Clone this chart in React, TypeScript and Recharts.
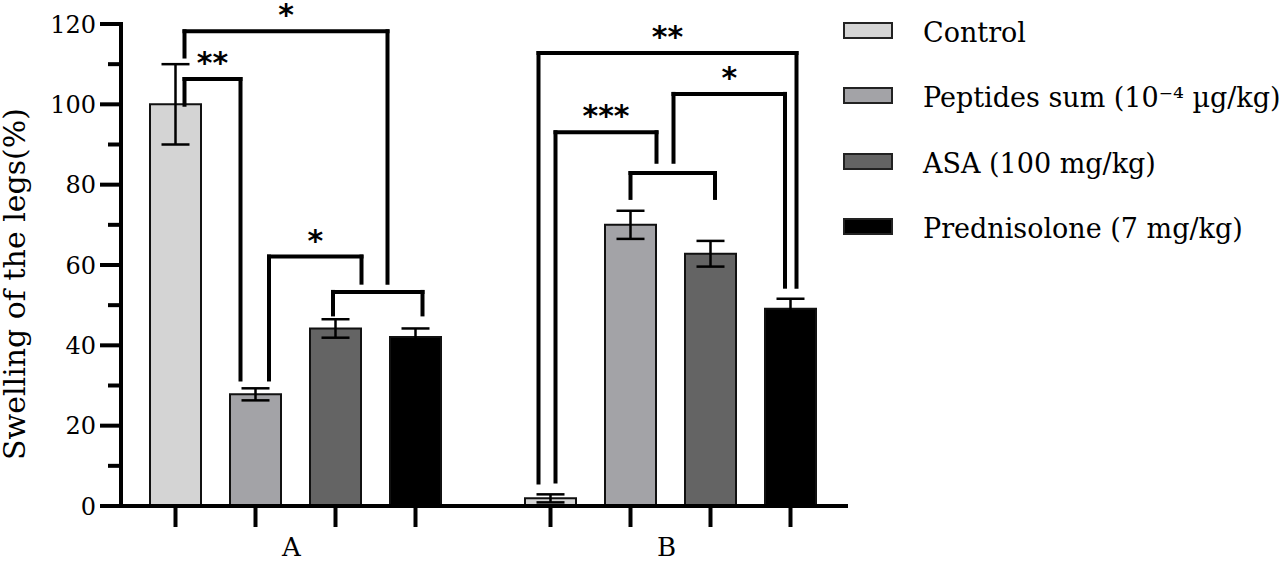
import React from 'react';
import { BarChart, Bar, XAxis, YAxis, ErrorBar, ReferenceLine, Legend } from 'recharts';

// ---------- data ----------
const groups = ['A', 'B'];
const seriesKeys = ['control', 'peptides', 'asa', 'pred'];
const seriesNames = ['Control', 'Peptides sum (10⁻⁴ µg/kg)', 'ASA (100 mg/kg)', 'Prednisolone (7 mg/kg)'];
const seriesColors = ['#d4d4d4', '#a3a3a7', '#646464', '#000000'];

const controlValues = [100, 1.9];
const controlErrors = [10, 1.0];
const peptidesValues = [27.8, 70.0];
const peptidesErrors = [1.5, 3.5];
const asaValues = [44.2, 62.8];
const asaErrors = [2.3, 3.2];
const predValues = [42.1, 49.1];
const predErrors = [2.1, 2.5];

const yTicks = [0, 10, 20, 30, 40, 50, 60, 70, 80, 90, 100, 110, 120];
const yMajorStep = 20;

// significance brackets: group, bars (index + small offset), heights in data units
const brackets = [
  { group: 0, fromBar: 0, fromDx: 9, toBar: 1, toDx: -15, top: 106.3, leftEnd: 99.9, rightEnd: 31.5, label: '**' },
  { group: 0, fromBar: 0, fromDx: 9, toBar: 3, toDx: -28, top: 118.2, leftEnd: 111.9, rightEnd: 55.6, label: '*' },
  { group: 0, fromBar: 1, fromDx: 13.5, toBar: 2, toDx: 26, top: 62.1, leftEnd: 31.5, rightEnd: 55.6, label: '*' },
  { group: 0, fromBar: 2, fromDx: -2.5, toBar: 3, toDx: 7, top: 53.3, leftEnd: 47.7, rightEnd: 47.7, label: '' },
  { group: 1, fromBar: 0, fromDx: -12, toBar: 3, toDx: 6, top: 112.8, leftEnd: 5.85, rightEnd: 54.6, label: '**' },
  { group: 1, fromBar: 1, fromDx: 43, toBar: 3, toDx: -5.5, top: 102.6, leftEnd: 85.7, rightEnd: 54.6, label: '*' },
  { group: 1, fromBar: 0, fromDx: 5, toBar: 1, toDx: 26, top: 93.05, leftEnd: 6.1, rightEnd: 85.7, label: '***' },
  { group: 1, fromBar: 1, fromDx: 0, toBar: 2, toDx: 4.5, top: 82.9, leftEnd: 76.7, rightEnd: 76.7, label: '' },
];

const data = groups.map((g, i) => ({
  group: g,
  control: controlValues[i],
  controlErr: controlErrors[i],
  peptides: peptidesValues[i],
  peptidesErr: peptidesErrors[i],
  asa: asaValues[i],
  asaErr: asaErrors[i],
  pred: predValues[i],
  predErr: predErrors[i],
}));

// ---------- layout ----------
const FONT = '"DejaVu Serif", serif';
const W = 1280;
const H = 561;
const PLOT_LEFT = 121;
const PLOT_RIGHT = 848;
const PLOT_TOP = 24;
const XAXIS_H = 55;
const PAD_L = -13;
const PAD_R = -10;
const BAR_SIZE = 51;
const BAR_GAP = 29;
const BAND = (PLOT_RIGHT - PLOT_LEFT - PAD_L - PAD_R) / groups.length;
const GROUP_W = seriesKeys.length * BAR_SIZE + (seriesKeys.length - 1) * BAR_GAP;
const BAR_OFFSET = Math.floor((BAND - GROUP_W) / 2);
const POS_MAX = BAND * groups.length;

const barPos = (g: number, i: number, dx: number) =>
  g * BAND + BAR_OFFSET + BAR_SIZE / 2 + i * (BAR_SIZE + BAR_GAP) + dx;

const YTick = (props: any) => {
  const { x, y, payload } = props;
  const major = payload.value % yMajorStep === 0;
  return (
    <g>
      <line x1={x - (major ? 21 : 13)} x2={x} y1={y} y2={y} stroke="#000" strokeWidth={4} />
      {major && (
        <text x={x - 25} y={y} dy="0.36em" textAnchor="end" fontSize={24} fontFamily={FONT} fill="#000">
          {payload.value}
        </text>
      )}
    </g>
  );
};

const XTick = (props: any) => {
  const { x, y, payload } = props;
  const step = BAR_SIZE + BAR_GAP;
  const mid = (seriesKeys.length - 1) / 2;
  return (
    <g>
      {seriesKeys.map((k, i) => (
        <line key={k} x1={x + (i - mid) * step} x2={x + (i - mid) * step} y1={y} y2={y + 21} stroke="#000" strokeWidth={4} />
      ))}
      <text x={x - 4} y={y + 50} textAnchor="middle" fontSize={26} fontFamily={FONT} fill="#000">
        {payload.value}
      </text>
    </g>
  );
};

const YLabel = (props: any) => {
  const vb = props.viewBox || { x: 0, y: PLOT_TOP, width: PLOT_LEFT, height: H - XAXIS_H - PLOT_TOP };
  const cx = vb.x + 25;
  const cy = vb.y + vb.height / 2 + 19;
  return (
    <text x={cx} y={cy} transform={`rotate(-90 ${cx} ${cy})`} textAnchor="middle" fontSize={30} fontFamily={FONT} fill="#000">
      Swelling of the legs(%)
    </text>
  );
};

const renderLegend = (props: any) => {
  const payload = [...(props.payload || [])].sort(
    (a: any, b: any) => seriesNames.indexOf(a.value) - seriesNames.indexOf(b.value)
  );
  return (
    <div style={{ fontFamily: FONT, fontSize: 27, color: '#000' }}>
      {payload.map((entry: any, i: number) => (
        <div key={i} style={{ display: 'flex', alignItems: 'center', height: 65.3, whiteSpace: 'nowrap' }}>
          <div
            style={{
              width: 50,
              height: 17,
              boxSizing: 'border-box',
              border: '2px solid #222',
              background: entry.color,
              marginRight: 30,
              flex: 'none',
            }}
          />
          <span style={{ lineHeight: 1, paddingTop: 4 }}>{entry.value}</span>
        </div>
      ))}
    </div>
  );
};

export default function App() {
  const labelStyle = (value: string) =>
    value
      ? {
          value,
          position: 'top' as const,
          offset: 6,
          fontSize: 30,
          fontWeight: 'bold',
          fill: '#000',
          fontFamily: '"DejaVu Sans", sans-serif',
        }
      : undefined;

  return (
    <div style={{ width: W, height: H }}>
      <style>{'body{margin:0}'}</style>
      <BarChart
        width={W}
        height={H}
        data={data}
        margin={{ top: PLOT_TOP, right: W - PLOT_RIGHT, bottom: 0, left: 0 }}
        barSize={BAR_SIZE}
        barGap={BAR_GAP}
        style={{ fontFamily: FONT }}
      >
        <XAxis
          dataKey="group"
          height={XAXIS_H}
          padding={{ left: PAD_L, right: PAD_R }}
          axisLine={{ stroke: '#000', strokeWidth: 4 }}
          tickLine={false}
          tickSize={0}
          tickMargin={0}
          tick={<XTick />}
          interval={0}
        />
        <XAxis
          xAxisId="pos"
          type="number"
          dataKey="bracketPosition"
          domain={[0, POS_MAX]}
          allowDataOverflow
          padding={{ left: PAD_L, right: PAD_R }}
          hide
        />
        <YAxis
          width={PLOT_LEFT}
          domain={[0, 120]}
          ticks={yTicks}
          interval={0}
          axisLine={{ stroke: '#000', strokeWidth: 4, strokeLinecap: 'square' }}
          tickLine={false}
          tickSize={0}
          tickMargin={0}
          tick={<YTick />}
          label={YLabel}
        />
        {seriesKeys.map((k, i) => (
          <Bar
            key={k}
            dataKey={k}
            name={seriesNames[i]}
            fill={seriesColors[i]}
            stroke="#111"
            strokeWidth={2}
            isAnimationActive={false}
          >
            <ErrorBar dataKey={`${k}Err`} width={14} stroke="#000" strokeWidth={2.5} />
          </Bar>
        ))}
        {brackets.map((b, bi) => {
          const x1 = barPos(b.group, b.fromBar, b.fromDx);
          const x2 = barPos(b.group, b.toBar, b.toDx);
          const common = {
            xAxisId: 'pos',
            stroke: '#000',
            strokeWidth: 4,
            strokeLinecap: 'square' as const,
            ifOverflow: 'visible' as const,
          };
          return [
            <ReferenceLine
              key={`h${bi}`}
              {...common}
              segment={[{ x: x1, y: b.top }, { x: x2, y: b.top }]}
              label={labelStyle(b.label)}
            />,
            <ReferenceLine key={`l${bi}`} {...common} segment={[{ x: x1, y: b.top }, { x: x1, y: b.leftEnd }]} />,
            <ReferenceLine key={`r${bi}`} {...common} segment={[{ x: x2, y: b.top }, { x: x2, y: b.rightEnd }]} />,
          ];
        })}
        <Legend
          layout="vertical"
          align="center"
          verticalAlign="middle"
          content={renderLegend}
          wrapperStyle={{ left: 843, top: -2, width: W - 843, margin: 0 }}
        />
      </BarChart>
    </div>
  );
}
